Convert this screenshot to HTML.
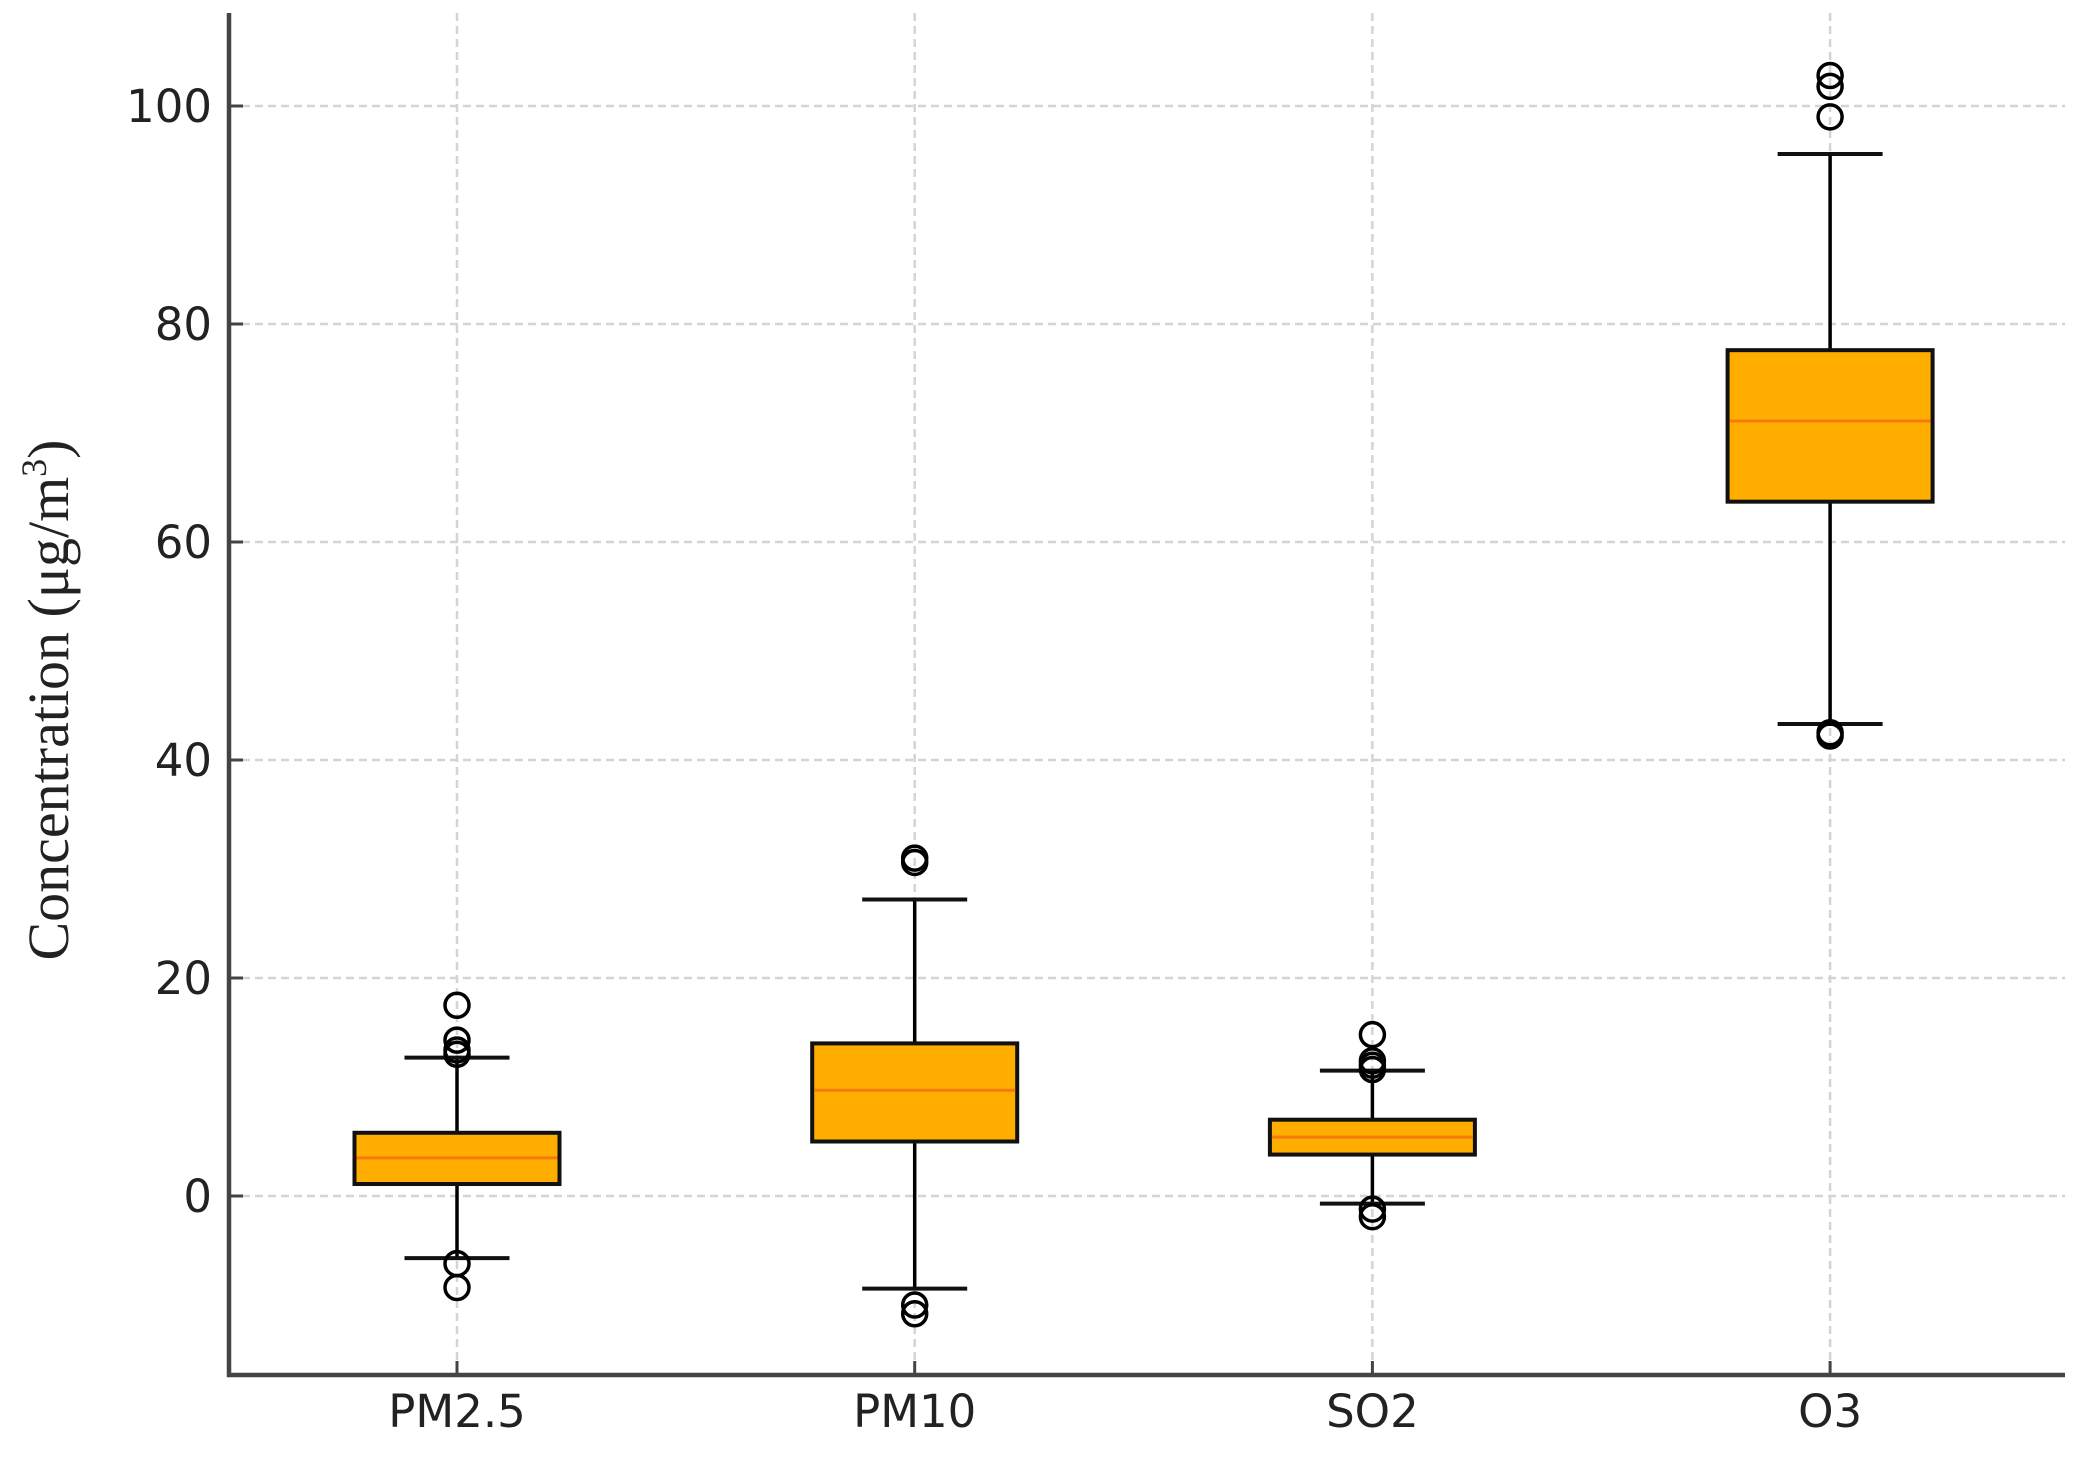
<!DOCTYPE html>
<html><head><meta charset="utf-8"><style>
html,body{margin:0;padding:0;background:#fff;}
svg{display:block;}
</style></head><body>
<svg id="chart" width="2097" height="1457" viewBox="0 0 2097 1457" xmlns="http://www.w3.org/2000/svg">
<g id="grid"></g>
<g id="boxes"></g>
<g id="axes"></g>
<text transform="translate(68,700) rotate(-90)" text-anchor="middle" font-family="Liberation Serif, serif" font-size="58" fill="#222">Concentration (μg/m<tspan font-size="36" dy="-22">3</tspan><tspan dy="22">)</tspan></text>
</svg>
<script>
const categories = ["PM2.5","PM10","SO2","O3"];
const q1 = [1.1, 5.0, 3.8, 63.7];
const medians = [3.5, 9.7, 5.4, 71.1];
const q3 = [5.8, 14.0, 7.0, 77.6];
const whiskerLow = [-5.7, -8.5, -0.7, 43.3];
const whiskerHigh = [12.7, 27.2, 11.5, 95.6];
const outliers = [[17.5, 14.3, 13.4, 13.0, -6.2, -8.4],[31.0, 30.6, -10.0, -10.8],[14.8, 12.4, 12.0, 11.6, -1.2, -1.9],[102.8, 101.8, 99.0, 42.5, 42.2]];
const yTicks = [0, 20, 40, 60, 80, 100];

const NS = "http://www.w3.org/2000/svg";
const axL = 229, axR = 2065, axT = 13, axB = 1375;
const y0px = 1196, pxPerUnit = 10.9;
const yScale = v => y0px - v * pxPerUnit;
const xScale = i => 457 + i * 457.7;
const boxW = 205, capW = 105;

function mk(parent, tag, attrs) {
  const el = document.createElementNS(NS, tag);
  for (const k in attrs) el.setAttribute(k, attrs[k]);
  parent.appendChild(el);
  return el;
}
const grid = document.getElementById('grid');
const boxes = document.getElementById('boxes');
const axes = document.getElementById('axes');

yTicks.forEach(t => {
  const y = yScale(t);
  const g = mk(grid, 'line', {x1: axL, x2: axR, y1: y, y2: y, stroke: '#d4d4d4', 'stroke-width': 2.5, 'stroke-dasharray': '8 5'});
  
  
  const tk = mk(axes, 'line', {x1: axL, x2: axL + 14, y1: y, y2: y, stroke: '#444', 'stroke-width': 3});
  
  
  const lb = mk(axes, 'text', {x: 212, y: y + 16, 'text-anchor': 'end', 'font-family': 'DejaVu Sans, sans-serif', 'font-size': 45, fill: '#222'});
  lb.textContent = t;
  
  
});

categories.forEach((c, i) => {
  const x = xScale(i);
  const g = mk(grid, 'line', {x1: x, x2: x, y1: axT, y2: axB, stroke: '#d4d4d4', 'stroke-width': 2.5, 'stroke-dasharray': '8 5'});
  
  
  const tk = mk(axes, 'line', {x1: x, x2: x, y1: axB, y2: axB - 14, stroke: '#444', 'stroke-width': 3});
  
  
  const lb = mk(axes, 'text', {x: x, y: 1427, 'text-anchor': 'middle', 'font-family': 'DejaVu Sans, sans-serif', 'font-size': 45, fill: '#222'});
  lb.textContent = c;
  
  

  const grp = mk(boxes, 'g', {});
  
  
  const yq1 = yScale(q1[i]), yq3 = yScale(q3[i]);
  const wl = mk(grp, 'line', {x1: x, x2: x, y1: yq1, y2: yScale(whiskerLow[i]), stroke: '#000', 'stroke-width': 3.5});
  
  
  const wh = mk(grp, 'line', {x1: x, x2: x, y1: yq3, y2: yScale(whiskerHigh[i]), stroke: '#000', 'stroke-width': 3.5});
  
  
  const cl = mk(grp, 'line', {x1: x - capW / 2, x2: x + capW / 2, y1: yScale(whiskerLow[i]), y2: yScale(whiskerLow[i]), stroke: '#111', 'stroke-width': 4});
  
  
  const ch = mk(grp, 'line', {x1: x - capW / 2, x2: x + capW / 2, y1: yScale(whiskerHigh[i]), y2: yScale(whiskerHigh[i]), stroke: '#111', 'stroke-width': 4});
  
  
  const r = mk(grp, 'rect', {x: x - boxW / 2, y: yq3, width: boxW, height: yq1 - yq3, fill: '#ffae00', stroke: '#111', 'stroke-width': 4});
  
  
  const md = mk(grp, 'line', {x1: x - boxW / 2 + 2, x2: x + boxW / 2 - 2, y1: yScale(medians[i]), y2: yScale(medians[i]), stroke: '#f47a10', 'stroke-width': 3});
  
  
  outliers[i].forEach(v => {
    const o = mk(grp, 'circle', {cx: x, cy: yScale(v), r: 12, fill: 'none', stroke: '#000', 'stroke-width': 3.5});
    
    
  });
});

const la = mk(axes, 'line', {x1: axL, x2: axL, y1: axT, y2: axB + 2, stroke: '#444', 'stroke-width': 4.5});


const ba = mk(axes, 'line', {x1: axL - 2, x2: axR, y1: axB, y2: axB, stroke: '#444', 'stroke-width': 4.5});


</script>
</body></html>
